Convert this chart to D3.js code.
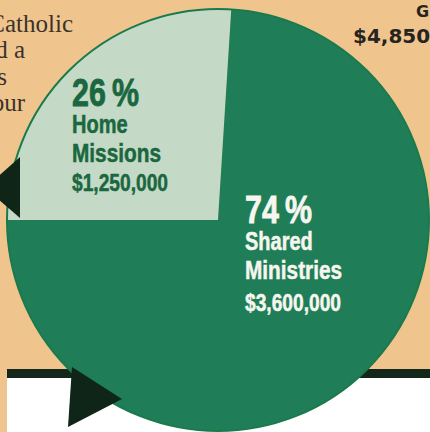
<!DOCTYPE html>
<html>
<head>
<meta charset="utf-8">
<script src="https://cdn.jsdelivr.net/npm/d3@7"></script>
<style>
  html, body { margin: 0; padding: 0; background: #f0c58d; }
  svg { display: block; }
</style>
</head>
<body>
<svg id="chart" width="430" height="432"></svg>
<script>
// Data
const categories = ['Home Missions', 'Shared Ministries'];
const categoryLines = [['Home', 'Missions'], ['Shared', 'Ministries']];
const shares = [26, 74];
const amounts = [1250000, 3600000];

// Fragments of the surrounding page text
const bodyLines = ['Catholic', 'd a', 's', 'our'];
const cornerLines = ['G', '$4,850'];

const W = 430, H = 432;
const cx = 218, cy = 220, R = 211;
const sliceFill = ['#c4dac7', '#1f7e57'];
const labelFill = ['#1a6740', '#f6f6ef'];
// label block anchor (left x, baselines of each line) per slice
const labelPos = [
    { x: 72, y: [106, 133, 162, 191] },
    { x: 245, y: [223, 250, 279, 311] }
];

const svg = d3.select('#chart');

// Page background
svg.append('rect').attr('width', W).attr('height', H).attr('fill', '#f0c58d');
svg.append('rect').attr('x', 7).attr('y', 378).attr('width', W - 7).attr('height', H - 378).attr('fill', '#ffffff');
svg.append('rect').attr('x', 7).attr('y', 369).attr('width', W - 7).attr('height', 9).attr('fill', '#13281b');

// Body copy fragments (left column, clipped by the page edge)
const bodyRight = [73, 25, 7, 25];
bodyLines.forEach((t, i) => {
    svg.append('text')
        .attr('x', bodyRight[i]).attr('y', 32 + i * 26.3)
        .attr('text-anchor', 'end')
        .attr('font-family', '"Liberation Serif", "DejaVu Serif", serif')
        .attr('font-size', 25).attr('fill', '#3a322b')
        .text(t);
});

// Top-right fragments
svg.append('text').attr('x', 416).attr('y', 17)
    .attr('font-family', '"DejaVu Sans", sans-serif').attr('font-weight', 700)
    .attr('font-size', 16).attr('fill', '#262421').text(cornerLines[0]);
svg.append('text').attr('x', 353).attr('y', 43)
    .attr('font-family', '"DejaVu Sans", sans-serif').attr('font-weight', 700)
    .attr('font-size', 20).attr('fill', '#262421').text(cornerLines[1]);

// Pie
const pie = d3.pie().sort(null)
    .startAngle(-Math.PI / 2).endAngle(1.5 * Math.PI);
const arc = d3.arc().innerRadius(0).outerRadius(R);
const arcs = pie(shares);

const g = svg.append('g').attr('transform', `translate(${cx},${cy})`);
g.selectAll('path.slice').data(arcs).join('path')
    .attr('class', 'slice')
    .attr('d', arc)
    .attr('fill', (d, i) => sliceFill[i]);
g.append('circle').attr('r', R)
    .attr('fill', 'none').attr('stroke', '#1a7a4d').attr('stroke-width', 2);

// Labels
const fmtMoney = d3.format('$,');
const sizes = [38, 25, 26, 24];
arcs.forEach((d, i) => {
    const lines = [`${shares[i]}%`, categoryLines[i][0], categoryLines[i][1], fmtMoney(amounts[i])];
    const p = labelPos[i];
    lines.forEach((t, j) => {
        svg.append('g')
            .attr('transform', `translate(${p.x},${p.y[j]}) scale(0.8,1)`)
            .append('text')
            .attr('font-family', '"Liberation Sans", Arial, sans-serif')
            .attr('font-weight', 700)
            .attr('font-size', sizes[j])
            .attr('fill', labelFill[i])
            .attr('stroke', labelFill[i]).attr('stroke-width', j === 0 ? 0.8 : 0.5)
            .text(j === 0 ? `${shares[i]}\u2009%` : t);
    });
});

// Pointer arrows
const arrowFill = '#0f2517';
svg.append('path')
    .attr('d', d3.line()([[20, 157], [20, 218], [-15, 188]]) + 'Z')
    .attr('fill', arrowFill);
svg.append('path')
    .attr('d', d3.line()([[72, 367], [68, 427], [122, 399]]) + 'Z')
    .attr('fill', arrowFill);
</script>
</body>
</html>
